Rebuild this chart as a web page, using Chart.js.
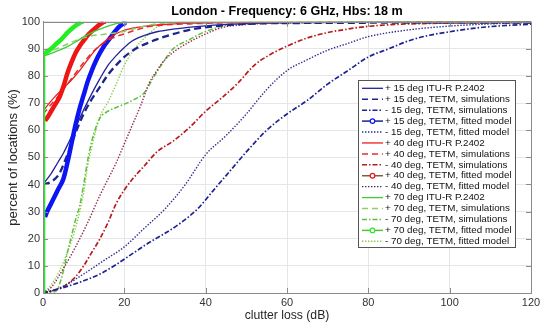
<!DOCTYPE html>
<html>
<head>
<meta charset="utf-8">
<script src="https://cdn.jsdelivr.net/npm/chart.js@4.4.0/dist/chart.umd.min.js"></script>
<style>
  html, body { margin: 0; padding: 0; background: #fff; }
  #wrap { width: 550px; height: 328px; }
</style>
</head>
<body>
<div id="wrap"><canvas id="clutterChart" width="550" height="328"></canvas></div>
<script>
// --- Axis ticks ---
const xTicks = [0, 20, 40, 60, 80, 100, 120];
const yTicks = [0, 10, 20, 30, 40, 50, 60, 70, 80, 90, 100];

// --- Series values, [clutter loss dB, percent] ---
const itu15  = [[0,40],[1,42],[2,44],[3,46.5],[4,49],[5,51.5],[6,54.5],[8,61],[10,67.5],[12,73.5],[14,79],[16,84],[18,87.5],[20,90.5],[22,93],[25,95],[28,96.3],[32,97.3],[40,98.5],[50,99.3],[60,99.7],[120,100]];
const sim15p = [[0,40],[2,41],[4,44],[6,51],[8,59],[10,66],[12,71.5],[14,76],[16,80.5],[18,84],[20,87],[22,89.3],[24,91],[26,92.3],[28,93.5],[31,95],[36,97],[42,98.3],[50,99.2],[60,99.5],[120,99.7]];
const sim15m = [[0,0],[2,0.8],[5,2],[10,4.5],[14,7],[18,10.5],[22,14.5],[26,18.5],[30,22],[34,26],[38,31],[42,38],[46,45],[50,52],[55,60],[60,66],[65,71],[70,77],[75,82],[80,87],[85,90],[90,93],[95,95],[100,96.3],[105,97.4],[110,98.2],[120,99.1]];
const fit15p = [[0.5,28],[1,30],[2,33],[3,36],[4,39],[5,42],[6,48],[7,55],[8,62],[9,68],[10,73],[11,78],[12,82],[13,85.5],[14,88.5],[15,91],[16,93],[17,95],[18,97],[19,98.5],[20,99.5]];
const fit15m = [[0,0],[2,0.7],[5,2.5],[10,7],[15,12],[20,17],[25,24],[30,31],[35,40],[40,51],[45,58],[50,66],[55,75],[60,82],[65,86],[70,89.5],[75,92],[80,94.5],[90,97],[100,98.4],[110,99.2],[120,99.7]];

const itu40  = [[0,67],[1,69],[3,72.5],[5,75.5],[7,78.5],[9,82],[11,86],[13,89.8],[15,92.5],[17,94.7],[19,96.3],[22,97.6],[26,98.5],[32,99.2],[45,99.7],[120,100]];
const sim40p = [[0,66],[2,69.5],[4,73],[6,77],[8,81],[10,85],[12,88.5],[14,91.2],[16,93.2],[18,94.5],[20,95.5],[23,97],[26,98.2],[30,98.8],[36,99.2],[45,99.6],[120,100]];
const sim40m = [[0,0],[2,0.7],[5,2.3],[8,6],[10,10],[12,15],[14,20],[16,26],[18,33],[20,38],[22,42],[25,47],[28,52],[32,56],[36,61],[40,67],[44,72],[48,77.5],[52,84],[56,88],[60,91],[65,94],[70,96],[75,97.3],[80,98.3],[90,99.2],[120,99.7]];
const fit40p = [[0.5,63.5],[1,64.5],[2,67],[3,69.5],[4,72],[5,76],[6,81],[7,85],[8,88.5],[9,91],[10,93],[11,95],[12,96.5],[13,97.8],[14,99],[15,100]];
const fit40m = [[0,0],[2,2],[5,9],[8,17],[11,26],[14,36],[16,42],[18,48],[20,55],[22,62],[24,69],[26,77],[28,82],[30,86],[33,89.8],[36,92.5],[40,95.5],[44,97.8],[50,99],[60,99.5],[120,100]];

const itu70  = [[0,0],[0,87.5],[2,88.3],[4,89.5],[6,90.8],[8,92.5],[10,94.4],[12,96],[14,97.3],[16,98.4],[18,99.3],[22,99.8],[120,100]];
const sim70p = [[0,0],[0,88],[3,89.8],[6,91.8],[9,93.6],[12,94.8],[16,95.5],[20,96.5],[24,98],[28,99.2],[35,99.7],[120,100]];
const sim70m = [[0,0],[3,0.5],[4,3],[5,8],[6,15],[7,21],[8,27],[9,32],[10,40],[11,49],[12,56],[13,61],[14,64.5],[16,67],[19,69],[22,71],[25,74],[27,79],[29.5,85],[32,90],[36,93.4],[40,96.4],[46,98.9],[55,99.6],[120,100]];
const fit70p = [[0,0],[0,88],[1,89],[2,90],[3,91.5],[4,92.8],[5,94.3],[6,96],[7,97.3],[8,98.5],[9,99.5],[9.5,100]];
const fit70m = [[0,0],[2,3],[4,8],[6,15],[8,24],[10,37],[11,47],[12,54],[13,60],[14,65],[16,70.5],[18,77],[20,84],[22,89],[24,92.5],[26,95.5],[28,98],[32,99.3],[40,99.8],[120,100]];

const FONT = "'Liberation Sans', Arial, Helvetica, sans-serif";
const DASH = [6, 4], DASHDOT = [5, 2, 1.5, 2], DOT = [1.4, 1.6];

function series(label, pts, color, width, dash, extra) {
    return Object.assign({
        label,
        data: pts.map(p => ({ x: p[0], y: p[1] })),
        borderColor: color,
        backgroundColor: color,
        borderWidth: width,
        borderDash: dash,
        pointRadius: 0,
        showLine: true,
        fill: false,
        cubicInterpolationMode: 'monotone',
        order: 10
    }, extra || {});
}

// thick "fitted model" curves end with a small open square
function fitted(label, pts, color, legendColor, order) {
    return series(label, pts, color, 4.5, [], {
        order,
        pointRadius: c => c.dataIndex === pts.length - 1 ? 2.5 : 0,
        pointStyle: 'rect',
        pointBackgroundColor: '#fff',
        pointBorderColor: color,
        pointBorderWidth: 1,
        legendColor, legendWidth: 1.5, marker: true
    });
}

const datasets = [
    series('+ 15 deg ITU-R P.2402', itu15, '#22229a', 1.3, [], { order: 8 }),
    series('+ 15 deg, TETM, simulations', sim15p, '#1c2490', 2.3, [7, 4], { legendWidth: 1.5, legendDash: DASH }),
    series('- 15 deg, TETM, simulations', sim15m, '#1c2490', 1.7, DASHDOT),
    fitted('+ 15 deg, TETM, fitted model', fit15p, '#0d16f2', '#1c2490', 6),
    series('- 15 deg, TETM, fitted model', fit15m, '#2a2a90', 1.4, DOT),
    series('+ 40 deg ITU-R P.2402', itu40, '#ee1c1c', 1.3, [], { order: 4 }),
    series('+ 40 deg, TETM, simulations', sim40p, '#e23030', 1.5, DASH, { order: 5 }),
    series('- 40 deg, TETM, simulations', sim40m, '#b51d1d', 1.7, DASHDOT),
    fitted('+ 40 deg, TETM, fitted model', fit40p, '#ee1515', '#7d5f3c', 3),
    series('- 40 deg, TETM, fitted model', fit40m, '#92294c', 1.4, DOT, { legendColor: '#3a2f5a' }),
    series('+ 70 deg ITU-R P.2402', itu70, '#3ccc3c', 1.3, [], { order: 1 }),
    series('+ 70 deg, TETM, simulations', sim70p, '#8ccf66', 1.5, DASH, { order: 2 }),
    series('- 70 deg, TETM, simulations', sim70m, '#5cbf3c', 1.5, DASHDOT),
    fitted('+ 70 deg, TETM, fitted model', fit70p, '#22ee22', '#55c03a', 0),
    series('- 70 deg, TETM, fitted model', fit70m, '#8ccc44', 1.4, DOT)
];

// MATLAB-like box with inward ticks
const boxTicks = {
    id: 'boxTicks',
    afterDatasetsDraw(chart) {
        const { ctx, chartArea: a, scales: { x, y } } = chart;
        ctx.save();
        ctx.strokeStyle = '#8a8a8a';
        ctx.lineWidth = 1;
        ctx.strokeRect(Math.round(a.left) + 0.5, Math.round(a.top) + 0.5,
            Math.round(a.right - a.left), Math.round(a.bottom - a.top));
        ctx.beginPath();
        xTicks.forEach(v => {
            const px = Math.round(x.getPixelForValue(v)) + 0.5;
            ctx.moveTo(px, a.bottom); ctx.lineTo(px, a.bottom - 5);
            ctx.moveTo(px, a.top); ctx.lineTo(px, a.top + 5);
        });
        yTicks.forEach(v => {
            const py = Math.round(y.getPixelForValue(v)) + 0.5;
            ctx.moveTo(a.left, py); ctx.lineTo(a.left + 5, py);
            ctx.moveTo(a.right, py); ctx.lineTo(a.right - 5, py);
        });
        ctx.stroke();
        ctx.restore();
    }
};

// Legend box inside the plot, drawn with each series' own line style
const boxLegend = {
    id: 'boxLegend',
    afterDraw(chart) {
        const { ctx } = chart;
        const left = 358, top = 80, w = 157, h = 167, rowH = 10.93, firstY = 88.3;
        ctx.save();
        ctx.fillStyle = '#fff';
        ctx.fillRect(left, top, w, h);
        ctx.strokeStyle = '#555';
        ctx.lineWidth = 1;
        ctx.strokeRect(left + 0.5, top + 0.5, w, h);
        ctx.font = '9.8px ' + FONT;
        ctx.textBaseline = 'middle';
        chart.data.datasets.forEach((ds, i) => {
            const yy = firstY + i * rowH;
            const col = ds.legendColor || ds.borderColor;
            ctx.strokeStyle = col;
            ctx.lineWidth = ds.legendWidth || Math.min(ds.borderWidth, 1.5);
            ctx.setLineDash(ds.legendDash || ds.borderDash || []);
            ctx.beginPath();
            ctx.moveTo(362, yy); ctx.lineTo(383, yy);
            ctx.stroke();
            ctx.setLineDash([]);
            if (ds.marker) {
                ctx.beginPath();
                ctx.arc(372.5, yy, 2.3, 0, Math.PI * 2);
                ctx.fillStyle = '#fff';
                ctx.fill();
                ctx.lineWidth = 1.2;
                ctx.strokeStyle = ds.borderColor;
                ctx.stroke();
            }
            ctx.fillStyle = '#111';
            ctx.fillText(ds.label, 385, yy);
        });
        ctx.restore();
    }
};

new Chart(document.getElementById('clutterChart'), {
    type: 'scatter',
    data: { datasets },
    plugins: [boxTicks, boxLegend],
    options: {
        responsive: false,
        animation: false,
        events: [],
        layout: { padding: { left: 0, right: 19, top: 0, bottom: 0 } },
        plugins: {
            legend: { display: false },
            tooltip: { enabled: false },
            title: {
                display: true,
                fullSize: false,
                text: 'London - Frequency: 6 GHz, Hbs: 18 m',
                color: '#000',
                font: { family: FONT, size: 12.6, weight: 'bold' },
                padding: { top: 4, bottom: 2.6 }
            }
        },
        scales: {
            x: {
                type: 'linear', min: 0, max: 120,
                afterBuildTicks: s => { s.ticks = xTicks.map(v => ({ value: v })); },
                afterFit: s => { s.height = 35; },
                ticks: { color: '#333', font: { family: FONT, size: 11 }, padding: 3, maxRotation: 0 },
                grid: { color: '#e6e6e6', drawTicks: false },
                border: { display: true, color: '#8a8a8a' },
                title: {
                    display: true, text: 'clutter loss (dB)', color: '#262626',
                    font: { family: FONT, size: 12.2 }, padding: { top: 0, bottom: 5.2 }
                }
            },
            y: {
                type: 'linear', min: 0, max: 100,
                afterBuildTicks: s => { s.ticks = yTicks.map(v => ({ value: v })); },
                afterFit: s => { s.width = 43; },
                ticks: { color: '#333', font: { family: FONT, size: 11 }, padding: 3 },
                grid: { color: '#e6e6e6', drawTicks: false },
                border: { display: true, color: '#8a8a8a' },
                title: {
                    display: true, text: 'percent of locations (%)', color: '#262626',
                    font: { family: FONT, size: 13 }, padding: { top: 5.2, bottom: 0 }
                }
            }
        }
    }
});
</script>
</body>
</html>
